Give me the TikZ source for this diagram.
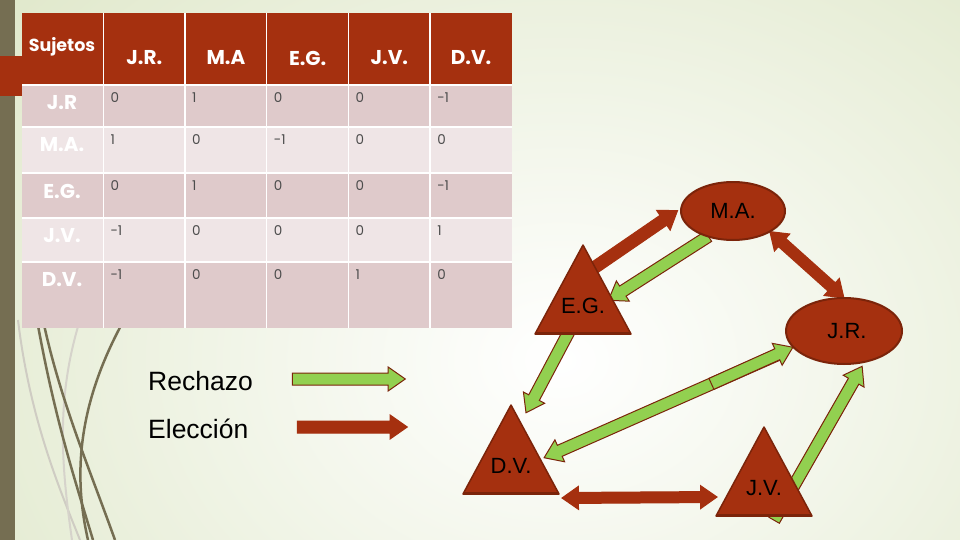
\documentclass[tikz,border=0pt]{standalone}
\usepackage{fontspec}
\setmainfont{Liberation Sans}
\newfontfamily\tabla{Poppins}
\usetikzlibrary{calc, shapes.geometric, shapes.arrows}
\definecolor{Ladrillo}{HTML}{A5300F}
\definecolor{LadrilloOsc}{HTML}{7B240A}
\definecolor{Lima}{HTML}{92D050}
\definecolor{FilaOsc}{HTML}{DFCACB}
\definecolor{FilaCla}{HTML}{EFE5E6}
\definecolor{Oliva}{HTML}{756E52}
\definecolor{Salvia}{HTML}{D9E3BF}
\pgfdeclarelayer{fondo}
\pgfdeclarelayer{enlaces}
\pgfdeclarelayer{formas}
\pgfsetlayers{fondo,enlaces,formas,main}

\newcommand\enlace[3]{%
  \path let \p1=($(#3)-(#2)$), \n1={veclen(\x1,\y1)} in
    (#2) -- node[#1=\n1] (#2-#3) {} (#3);}
\newcommand\triangulo[1]{%
  \filldraw[forma] ($(#1)+(0,-61)$) -- ($(#1)+(48,28)$) -- ($(#1)+(-48,28)$) -- cycle;
  \draw[LadrilloOsc, line width=2.5pt] ($(#1)+(-47,27)$) -- ($(#1)+(47,27)$);}

\begin{document}
\begin{tikzpicture}[x=1pt, y=-1pt,
    forma/.style={fill=Ladrillo, draw=LadrilloOsc, line width=1.5pt, line join=round},
    elipse/.style={ellipse, forma, line width=2pt, inner sep=0pt, outer sep=0pt, font=\fontsize{22}{26}\selectfont},
    etiq/.style={inner sep=0pt, font=\fontsize{22}{26}\selectfont},
    leyenda/.style={inner sep=0pt, anchor=base west, font=\fontsize{26.5}{32}\selectfont},
    cab/.style={text=white, inner sep=0pt, font=\tabla\bfseries\fontsize{20}{24}\selectfont},
    valor/.style={text=black!70, inner sep=0pt, anchor=west, font=\tabla\fontsize{13.5}{16}\selectfont},
    flecha/.style={inner sep=0pt, outer sep=0pt, sloped, allow upside down, line width=1pt, minimum height=#1},
    rechazo/.style={flecha=#1, single arrow, fill=Lima, draw=LadrilloOsc, text height=5.5pt, text depth=5.5pt,
      single arrow head extend=6pt, single arrow tip angle=70},
    eleccion/.style={flecha=#1, single arrow, fill=Ladrillo, draw=Ladrillo, text height=5.5pt, text depth=5.5pt,
      single arrow head extend=6pt, single arrow tip angle=70},
    mutua/.style={flecha=#1, double arrow, fill=Ladrillo, draw=Ladrillo, text height=5pt, text depth=5pt,
      double arrow head extend=6pt, double arrow tip angle=70},
  ]
  \useasboundingbox (0,0) rectangle (960,540);

  \begin{pgfonlayer}{fondo}
    \begin{scope}
      \clip (0,0) rectangle (960,540);
      \shade[inner color=white, outer color=Salvia] (-340,-340) rectangle (1460,1060);
    \end{scope}
    \fill[Oliva] (0,0) rectangle (15,540);
    \fill[Ladrillo] (0,56) rectangle (22,96);
    \draw[Oliva!35, line width=2pt] (18,320) .. controls (30,420) and (60,490) .. (80,540);
    \draw[Oliva!30, line width=2pt] (80,320) .. controls (55,400) and (62,470) .. (72,540);
    \draw[Oliva, line width=2.5pt] (37,320) .. controls (55,420) and (75,480) .. (93,540);
    \draw[Oliva, line width=2.5pt] (43,320) .. controls (60,400) and (90,470) .. (115,540);
    \draw[Oliva, line width=2.5pt] (124,320) .. controls (80,400) and (72,470) .. (88,540);

    \fill[Ladrillo] (22,13) rectangle (512,85);
    \foreach \ytop/\ybot/\tono in {85/127/FilaOsc, 127/173/FilaCla, 173/218/FilaOsc, 218/262/FilaCla, 262/328/FilaOsc}
      \fill[\tono] (22,\ytop) rectangle (512,\ybot);
    \foreach \x in {103.3,185,266.7,348.3,430}
      \draw[white, line width=1.5pt] (\x,13) -- (\x,328);
    \foreach \y in {85,127,173,218,262}
      \draw[white, line width=1.5pt] (22,\y) -- (512,\y);

    \node[cab, font=\tabla\bfseries\fontsize{17.5}{21}\selectfont] (suj) at (62,47) {Sujetos};
    \foreach \lbl [count=\i] in {J.R., M.A, E.G., J.V., D.V.}
      \node[cab] (col\i) at ({144.3+81.7*(\i-1)},58) {\lbl};
    \foreach \lbl/\ytop/\va/\vb/\vc/\vd/\ve [count=\r] in
        {J.R/85/0/1/0/0/-1, M.A./127/1/0/-1/0/0, E.G./173/0/1/0/0/-1,
         J.V./218/-1/0/0/0/1, D.V./262/-1/0/0/1/0} {
      \node[cab] (fila\r) at (62,\ytop+18) {\lbl};
      \foreach \v [count=\k] in {\va,\vb,\vc,\vd,\ve}
        \node[valor] (v\r\k) at ({110.3+81.7*(\k-1)},\ytop+13) {\v};
    }
  \end{pgfonlayer}

  \node[elipse, minimum width=104pt, minimum height=58pt] (ma) at (733,211) {M.A.};
  \node[elipse, minimum width=116pt, minimum height=66pt] (jr) at (844,331) {\hspace{6pt}J.R.};
  \node[etiq] (eg) at (583,306) {E.G.};
  \node[etiq] (dv) at (511,466) {D.V.};
  \node[etiq] (jv) at (764,488) {J.V.};

  \node[leyenda] (rech) at (148,390) {Rechazo};
  \node[leyenda] (elec) at (148,438) {Elección};

  \begin{pgfonlayer}{formas}
    \triangulo{eg}
    \triangulo{dv}
    \triangulo{jv}
  \end{pgfonlayer}

  \begin{pgfonlayer}{enlaces}
    \coordinate (egma-s) at ($(eg)+(5,-34)$);
    \coordinate (egma-t) at ($(ma.west)+(-7,2)$);
    \coordinate (maeg-s) at ($(ma)+(-21,23)$);
    \coordinate (maeg-t) at ($(eg)+(29,-8)$);
    \coordinate (egdv-s) at ($(eg)+(-11,20)$);
    \coordinate (egdv-t) at ($(dv)+(17,-57)$);
    \coordinate (jrdv-s) at ($(jr)+(-58,20)$);
    \coordinate (jrdv-t) at ($(dv)+(37,-10)$);
    \coordinate (xjr-s) at ($(jrdv-t)!0.67!(jrdv-s)$);
    \coordinate (xjr-t) at ($(jr)+(-55,18)$);
    \coordinate (dvjv-s) at ($(dv)+(51,32)$);
    \coordinate (dvjv-t) at ($(jv)+(-47,9)$);
    \coordinate (jvjr-s) at ($(jv)+(8,36)$);
    \coordinate (jvjr-t) at ($(jr)+(16,39)$);
    \coordinate (lr-s) at (288,379);
    \coordinate (lr-t) at (401,379);
    \coordinate (le-s) at (293,427);
    \coordinate (le-t) at (403,427);

    \enlace{eleccion}{egma-s}{egma-t}
    \enlace{rechazo}{maeg-s}{maeg-t}
    \enlace{mutua}{ma.south east}{jr.north}
    \enlace{rechazo}{egdv-s}{egdv-t}
    \enlace{rechazo}{jrdv-s}{jrdv-t}
    \enlace{rechazo}{xjr-s}{xjr-t}
    \enlace{mutua}{dvjv-s}{dvjv-t}
    \enlace{rechazo}{jvjr-s}{jvjr-t}
    \enlace{rechazo}{lr-s}{lr-t}
    \enlace{eleccion}{le-s}{le-t}
  \end{pgfonlayer}
\end{tikzpicture}
\end{document}
